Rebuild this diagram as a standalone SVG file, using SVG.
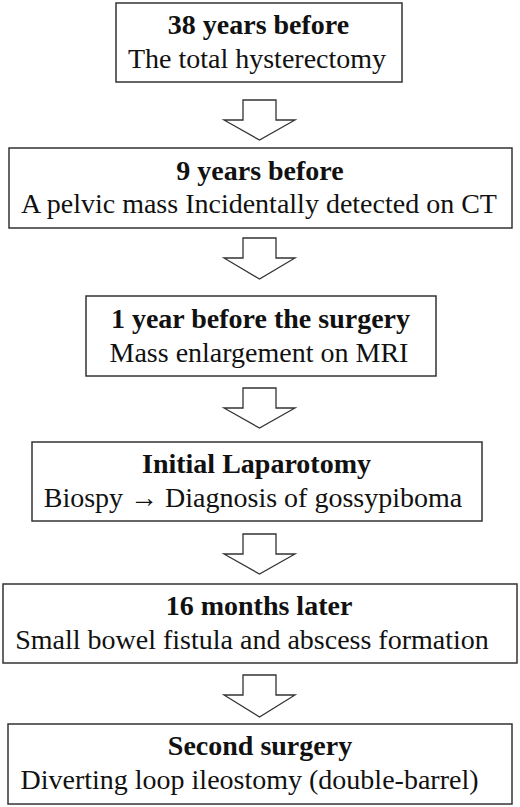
<svg xmlns="http://www.w3.org/2000/svg" width="520" height="807" viewBox="0 0 520 807">
<style>
.box{fill:#fff;stroke:#333;stroke-width:1.5}
.arr{fill:#fff;stroke:#333;stroke-width:1.3;stroke-linejoin:miter}
.t{font-size:28px;fill:#111;text-anchor:middle}
.b{font-weight:bold}
</style>
<rect width="520" height="807" fill="#fff"/>
<g id="connectors">
<polygon class="arr" points="243,100 276,100 276,120 295,120 259.5,140 224,120 243,120"/>
<polygon class="arr" points="243,238 276,238 276,258 295,258 259.5,279 224,258 243,258"/>
<polygon class="arr" points="243,388 276,388 276,408 295,408 259.5,428 224,408 243,408"/>
<polygon class="arr" points="243,534 276,534 276,554 295,554 259.5,574 224,554 243,554"/>
<polygon class="arr" points="243,675 276,675 276,695 295,695 259.5,717 224,695 243,695"/>
</g>
<g id="nodes" font-family="Liberation Serif, Times New Roman, serif">
<g id="n1">
<rect class="box" x="116" y="3" width="286" height="79"/>
<text class="t b" x="258.5" y="34">38 years before</text>
<text class="t" x="257" y="68">The total hysterectomy</text>
</g>
<g id="n2">
<rect class="box" x="9" y="148" width="503" height="80"/>
<text class="t b" x="260" y="180">9 years before</text>
<text class="t" x="259" y="213">A pelvic mass Incidentally detected on CT</text>
</g>
<g id="n3">
<rect class="box" x="86" y="296" width="350" height="80"/>
<text class="t b" x="260.5" y="328">1 year before the surgery</text>
<text class="t" x="259" y="362">Mass enlargement on MRI</text>
</g>
<g id="n4">
<rect class="box" x="32" y="442" width="450" height="79"/>
<text class="t b" x="256.5" y="473">Initial Laparotomy</text>
<text class="t" x="253" y="507">Biospy → Diagnosis of gossypiboma</text>
</g>
<g id="n5">
<rect class="box" x="3" y="584" width="514" height="79"/>
<text class="t b" x="259" y="615">16 months later</text>
<text class="t" x="252" y="649">Small bowel fistula and abscess formation</text>
</g>
<g id="n6">
<rect class="box" x="8" y="724" width="504" height="80"/>
<text class="t b" x="260" y="755">Second surgery</text>
<text class="t" x="249.5" y="789">Diverting loop ileostomy (double-barrel)</text>
</g>
</g>
</svg>
